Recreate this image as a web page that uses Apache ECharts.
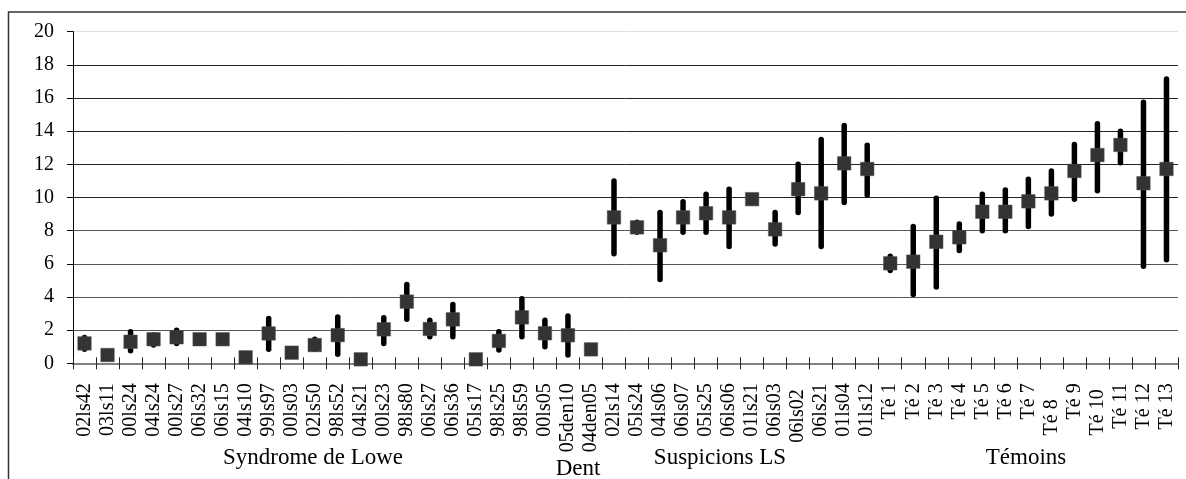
<!DOCTYPE html>
<html>
<head>
<meta charset="utf-8">
<script src="https://cdn.jsdelivr.net/npm/echarts@6/dist/echarts.min.js"></script>
<style>
  html, body { margin: 0; padding: 0; background: #fff; }
  #chart { width: 1186px; height: 479px; }
</style>
</head>
<body>
<div id="chart"></div>
<script>
// ---- data ----
const categories = [
  '02ls42','03ls11','00ls24','04ls24','00ls27','06ls32','06ls15','04ls10','99ls97','00ls03',
  '02ls50','98ls52','04ls21','00ls23','98ls80','06ls27','06ls36','05ls17','98ls25','98ls59','00ls05',
  '05den10','04den05',
  '02ls14','05ls24','04ls06','06ls07','05ls25','06ls06','01ls21','06ls03','06ls02','06ls21','01ls04','01ls12',
  'Té 1','Té 2','Té 3','Té 4','Té 5','Té 6','Té 7','Té 8','Té 9','Té 10','Té 11','Té 12','Té 13'
];
const means = [
  1.2, 0.5, 1.3, 1.45, 1.57, 1.45, 1.45, 0.36, 1.8, 0.64,
  1.1, 1.7, 0.24, 2.05, 3.72, 2.07, 2.65, 0.24, 1.35, 2.77, 1.81,
  1.69, 0.84,
  8.8, 8.2, 7.12, 8.8, 9.05, 8.8, 9.9, 8.08, 10.5, 10.25, 12.06, 11.72,
  6.03, 6.13, 7.33, 7.6, 9.14, 9.14, 9.77, 10.25, 11.6, 12.56, 13.17, 10.86, 11.72
];
const lows = [
  0.85, null, 0.75, 1.1, 1.2, 1.3, 1.3, null, 0.85, null,
  0.85, 0.55, null, 1.2, 2.65, 1.6, 1.6, null, 0.8, 1.6, 1.0,
  0.5, 0.65,
  6.6, 7.9, 5.05, 7.9, 7.9, 7.05, null, 7.2, 9.1, 7.05, 9.7, 10.15,
  5.6, 4.15, 4.6, 6.8, 8.0, 8.0, 8.25, 9.0, 9.9, 10.4, 12.1, 5.85, 6.25
];
const highs = [
  1.55, null, 1.9, 1.7, 2.0, 1.6, 1.6, null, 2.7, null,
  1.45, 2.8, null, 2.75, 4.75, 2.6, 3.55, null, 1.9, 3.9, 2.6,
  2.85, 0.9,
  11.0, 8.5, 9.1, 9.75, 10.2, 10.5, null, 9.1, 12.0, 13.5, 14.35, 13.15,
  6.45, 8.25, 9.95, 8.4, 10.2, 10.45, 11.1, 11.6, 13.2, 14.45, 14.0, 15.75, 17.15
];
const yTicks = [0, 2, 4, 6, 8, 10, 12, 14, 16, 18, 20];
const groupNames = ['Syndrome de Lowe', 'Dent', 'Suspicions LS', 'Témoins'];

// ---- build ----
const FONT = '"Liberation Serif", "Times New Roman", serif';
const labelShift = { '06ls02': 6, 'Té 8': 16, 'Té 10': 6 };
const catData = categories.map(c => labelShift[c]
  ? { value: c, textStyle: { padding: [0, labelShift[c], 0, 0] } }
  : c);

const barData = [];
for (let i = 0; i < categories.length; i++) {
  if (lows[i] != null && highs[i] != null) barData.push([i, lows[i], highs[i]]);
}
const pointData = means.map((v, i) => [i, v]);

const chart = echarts.init(document.getElementById('chart'), null, { renderer: 'canvas' });
const option = {
  animation: false,
  backgroundColor: '#fff',
  grid: { left: 73, right: 8, top: 31.7, bottom: 115.7, containLabel: false, outerBoundsMode: 'none' },
  xAxis: [{
    type: 'category',
    data: catData,
    position: 'bottom',
    boundaryGap: true,
    axisLine: { show: true, lineStyle: { color: '#808080', width: 2 } },
    axisTick: { show: true, alignWithLabel: false, length: 6, inside: false, lineStyle: { color: '#222', width: 1 } },
    axisLabel: { show: true, interval: 0, rotate: 90, margin: 20, fontFamily: FONT, fontSize: 20, color: '#000' },
    splitLine: { show: false }
  }, {
    type: 'category',
    data: categories,
    position: 'bottom',
    boundaryGap: true,
    axisLine: { show: false },
    axisTick: { show: true, length: 6, inside: true, interval: 0, lineStyle: { color: '#222', width: 1 } },
    axisLabel: { show: false },
    splitLine: { show: false }
  }],
  yAxis: {
    type: 'value',
    min: yTicks[0],
    max: yTicks[yTicks.length - 1],
    interval: yTicks[1] - yTicks[0],
    axisLine: { show: true, lineStyle: { color: '#000', width: 1 } },
    axisTick: { show: true, length: 6, lineStyle: { color: '#000' } },
    axisLabel: { fontFamily: FONT, fontSize: 20, color: '#000', margin: 19 },
    splitLine: { show: true, lineStyle: { width: 1, color: ['#808080', '#555', '#555', '#555', '#555', '#222', '#222', '#222', '#222', '#222', '#e0e0e0'] } }
  },
  series: [{
    type: 'custom',
    xAxisIndex: 0,
    z: 2,
    data: barData,
    encode: { x: 0, y: [1, 2] },
    renderItem: function (params, api) {
      const x = api.value(0);
      const p1 = api.coord([x, api.value(1)]);
      const p2 = api.coord([x, api.value(2)]);
      return {
        type: 'line',
        shape: { x1: p1[0], y1: p1[1], x2: p2[0], y2: p2[1] },
        style: { stroke: '#000', lineWidth: 5.5, lineCap: 'round' }
      };
    }
  }, {
    type: 'scatter',
    xAxisIndex: 0,
    z: 3,
    symbol: 'rect',
    symbolSize: 13.5,
    data: pointData,
    itemStyle: { color: '#333', borderColor: '#555', borderWidth: 0.5, opacity: 1 },
    emphasis: { disabled: true }
  }],
  graphic: [
    { type: 'rect', silent: true, z: 100, shape: { x: 8.5, y: 12, width: 1300, height: 600 }, style: { fill: null, stroke: '#333', lineWidth: 1.5 } },
    { type: 'text', silent: true, x: 313, y: 458, style: { text: groupNames[0], font: '23px ' + FONT, fill: '#000', align: 'center', verticalAlign: 'middle' } },
    { type: 'text', silent: true, x: 578, y: 468.5, style: { text: groupNames[1], font: '23px ' + FONT, fill: '#000', align: 'center', verticalAlign: 'middle' } },
    { type: 'text', silent: true, x: 720, y: 458, style: { text: groupNames[2], font: '23px ' + FONT, fill: '#000', align: 'center', verticalAlign: 'middle' } },
    { type: 'text', silent: true, x: 1026, y: 458, style: { text: groupNames[3], font: '23px ' + FONT, fill: '#000', align: 'center', verticalAlign: 'middle' } }
  ]
};
chart.setOption(option);
</script>
</body>
</html>
